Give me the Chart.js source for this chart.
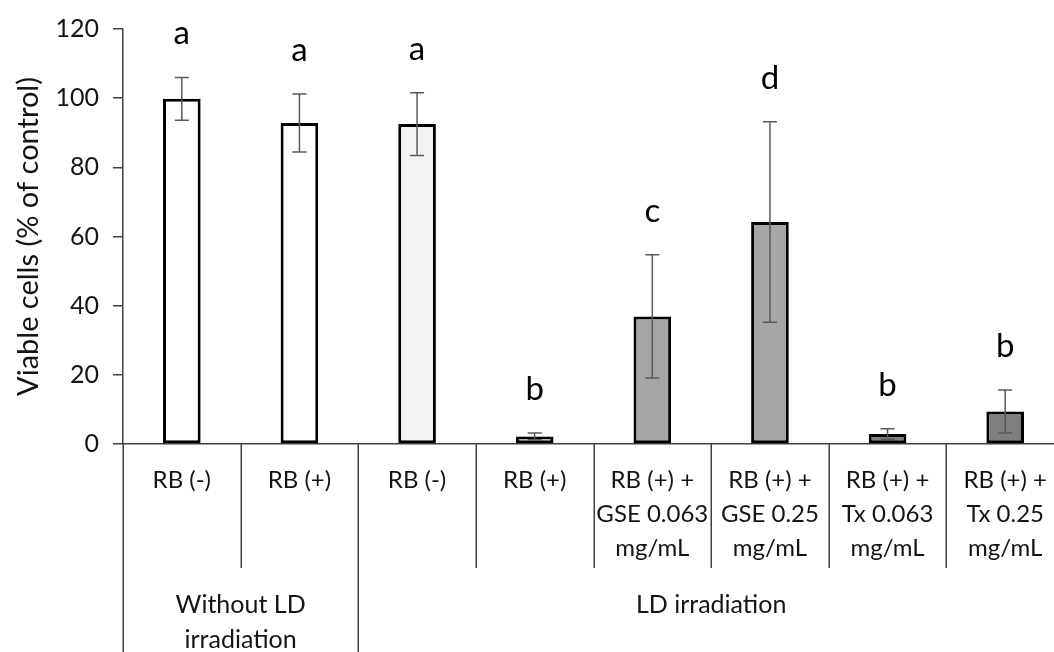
<!DOCTYPE html>
<html>
<head>
<meta charset="utf-8">
<script src="https://cdn.jsdelivr.net/npm/chart.js@4.4.1/dist/chart.umd.min.js"></script>
<style>
  html, body { margin: 0; padding: 0; background: #ffffff; overflow: hidden; }
  #wrap { width: 1054px; height: 652px; overflow: hidden; position: relative; }
  #box { width: 1066px; height: 652px; position: absolute; left: 0; top: 0; }
</style>
</head>
<body>
<div id="wrap"><div id="box"><canvas id="c"></canvas></div></div>
<script>
// ---- data ----
const categories = [
  ['RB (-)'],
  ['RB (+)'],
  ['RB (-)'],
  ['RB (+)'],
  ['RB (+) +', 'GSE 0.063', 'mg/mL'],
  ['RB (+) +', 'GSE 0.25', 'mg/mL'],
  ['RB (+) +', 'Tx 0.063', 'mg/mL'],
  ['RB (+) +', 'Tx 0.25', 'mg/mL']
];
const viable = [99.8, 92.8, 92.5, 2.2, 36.9, 64.2, 2.9, 9.4];
const errors = [6.2, 8.4, 9.1, 1.0, 17.8, 29.0, 1.5, 6.2];
const letters = ['a', 'a', 'a', 'b', 'c', 'd', 'b', 'b'];
const barColors = ['#ffffff', '#ffffff', '#f2f2f2', '#f2f2f2', '#a6a6a6', '#a6a6a6', '#7f7f7f', '#7f7f7f'];
const groupLabels = [['Without LD', 'irradiation'], ['LD irradiation']];
const groupStart = [0, 2];
const groupEnd = [1, 7];
const yTicks = [0, 20, 40, 60, 80, 100, 120];
const yTitle = 'Viable cells (% of control)';

const FONT = 'Lato, "Open Sans", sans-serif';
const AXIS = '#404040';
const TXT = '#141414';

const extras = {
  id: 'extras',
  afterDatasetsDraw(chart) {
    const ctx = chart.ctx;
    const y = chart.scales.y;
    const meta = chart.getDatasetMeta(0);
    ctx.save();
    meta.data.forEach((bar, i) => {
      const cx = bar.x;
      const yt = y.getPixelForValue(viable[i] + errors[i]);
      const yb = y.getPixelForValue(viable[i] - errors[i]);
      ctx.strokeStyle = '#5a5a5a';
      ctx.lineWidth = 1.5;
      ctx.beginPath();
      ctx.moveTo(cx, yt); ctx.lineTo(cx, yb);
      ctx.moveTo(cx - 7, yt); ctx.lineTo(cx + 7, yt);
      ctx.moveTo(cx - 7, yb); ctx.lineTo(cx + 7, yb);
      ctx.stroke();
      ctx.fillStyle = '#000000';
      ctx.font = '33px ' + FONT;
      ctx.textAlign = 'center';
      ctx.textBaseline = 'alphabetic';
      ctx.fillText(letters[i], cx, yt - 33);
    });
    ctx.restore();
  },
  afterDraw(chart) {
    const ctx = chart.ctx;
    const x = chart.scales.x;
    const bottom0 = x.top;
    const half = (x.getPixelForValue(1) - x.getPixelForValue(0)) / 2;
    const edge = i => x.getPixelForValue(i) - half;
    ctx.save();
    ctx.strokeStyle = AXIS;
    ctx.lineWidth = 1.5;
    const groupEdges = new Set();
    groupStart.forEach(s => groupEdges.add(s));
    groupEnd.forEach(e => groupEdges.add(e + 1));
    for (let i = 0; i <= categories.length; i++) {
      const px = Math.round(edge(i)) + 0.25;
      const end = groupEdges.has(i) ? chart.height : bottom0 + 124;
      ctx.beginPath();
      ctx.moveTo(px, bottom0);
      ctx.lineTo(px, end);
      ctx.stroke();
    }
    ctx.fillStyle = TXT;
    ctx.font = '25px ' + FONT;
    ctx.textAlign = 'center';
    ctx.textBaseline = 'middle';
    groupLabels.forEach((lines, g) => {
      const cx = (edge(groupStart[g]) + edge(groupEnd[g] + 1)) / 2;
      lines.forEach((t, k) => ctx.fillText(t, cx, bottom0 + 161 + k * 35));
    });
    ctx.restore();
  }
};

new Chart(document.getElementById('c'), {
  type: 'bar',
  data: {
    labels: categories,
    datasets: [{
      data: viable,
      backgroundColor: barColors,
      borderColor: '#000000',
      borderWidth: 3,
      borderSkipped: false,
      barPercentage: 0.32,
      categoryPercentage: 1.0
    }]
  },
  options: {
    responsive: true,
    maintainAspectRatio: false,
    animation: false,
    events: [],
    layout: { padding: { top: 27, right: 1, left: 0, bottom: 0 } },
    plugins: { legend: { display: false }, tooltip: { enabled: false } },
    scales: {
      x: {
        grid: { display: false, drawTicks: false },
        border: { display: true, color: AXIS, width: 1.5 },
        ticks: {
          autoSkip: false, maxRotation: 0, minRotation: 0,
          padding: 19,
          color: TXT,
          font: { family: FONT, size: 24, lineHeight: 1.42 }
        },
        afterFit(s) { s.height = 208; }
      },
      y: {
        min: 0, max: 120,
        afterBuildTicks(s) { s.ticks = yTicks.map(v => ({ value: v })); },
        grid: { drawOnChartArea: false, drawTicks: true, tickLength: 10, color: AXIS, lineWidth: 1.5 },
        border: { display: true, color: AXIS, width: 1.5 },
        ticks: { padding: 14, color: TXT, font: { family: FONT, size: 25 } },
        title: {
          display: true, text: yTitle, color: TXT,
          font: { family: FONT, size: 29 },
          padding: { top: 11, bottom: 0 }
        },
        afterFit(s) { s.width = 123; }
      }
    }
  },
  plugins: [extras]
});
</script>
</body>
</html>
